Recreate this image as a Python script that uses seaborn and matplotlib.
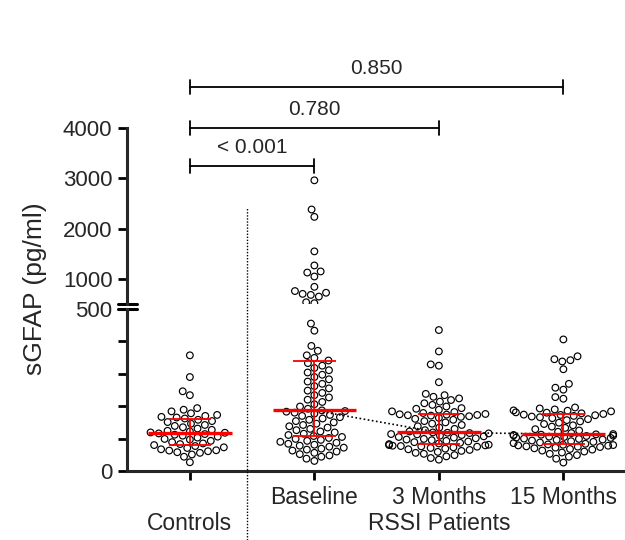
import numpy as np
import pandas as pd
import matplotlib
matplotlib.use("Agg")
import matplotlib.pyplot as plt
from matplotlib.lines import Line2D
import seaborn as sns

# sGFAP values (pg/ml)
groups = ["Controls", "Baseline", "3 Months", "15 Months"]
tick_labels = ["\nControls", "Baseline", "3 Months\nRSSI Patients", "15 Months"]

controls = [27, 44, 51, 56, 58, 61, 63, 64, 67, 71, 73, 77, 80, 83, 85, 89, 93,
            97, 99, 103, 106, 109, 112, 114, 116, 118, 119, 122, 124, 127, 131,
            135, 139, 142, 146, 151, 154, 158, 162, 165, 167, 170, 173, 178, 184,
            189, 194, 234, 246, 290, 357]

baseline = [31, 38, 44, 48, 52, 56, 60, 63, 66, 69, 72, 75, 78, 81, 84, 87, 90,
            93, 96, 99, 102, 105,
            108, 111, 115, 119, 122, 126, 130, 134, 138, 142, 146, 150, 154, 158,
            162, 166, 170, 173, 177, 180, 183, 185,
            187,
            192, 199, 206, 213, 220, 227, 234, 241, 248, 255, 262, 269, 276, 283,
            290, 297, 304, 311, 318, 325, 333, 341,
            349, 357, 371, 386, 433, 455, 517, 535, 648, 681, 702, 724, 758, 842,
            1047, 1126, 1148, 1267, 1547, 2233, 2380, 2960]

months3 = [35, 40, 45, 49, 53, 56, 59, 62, 65, 67, 69, 71, 73, 75, 76, 77, 78,
           79, 80, 81,
           83, 85, 87, 89, 91, 93, 95, 97, 99, 101, 103, 105, 107, 109, 111, 113,
           114, 116, 117, 118,
           119,
           122, 126, 130, 134, 138, 142, 146, 150, 154, 158, 161, 164, 167, 169,
           171, 172, 173, 174, 175, 176,
           179, 182, 184, 189, 192, 194, 199, 204, 209, 214, 219, 224, 229, 234,
           238, 274, 325, 329, 369, 435]

months15 = [26, 38, 44, 49, 53, 57, 60, 63, 66, 68, 70, 72, 74, 75, 76, 78, 79,
            80, 81, 82,
            84, 86, 88, 90, 92, 94, 96, 97, 99, 100, 102, 103, 105, 106, 108, 109,
            110, 111, 112, 113,
            114,
            117, 121, 125, 129, 133, 137, 141, 145, 149, 153, 157, 160, 163, 166,
            168, 170, 172, 173, 174, 176,
            178, 180, 181, 184, 186, 187, 190, 193, 196, 223, 228, 251, 257, 269,
            314, 338, 342, 345, 354, 406]

# significance brackets: end group, height in pg/ml, label (all start at Controls)
bracket_ends = [1, 2, 3]
bracket_heights = [3245, 4006, 4821]
bracket_labels = ["< 0.001", "0.780", "0.850"]

df = pd.DataFrame({
    "group": ["Controls"] * len(controls) + ["Baseline"] * len(baseline)
             + ["3 Months"] * len(months3) + ["15 Months"] * len(months15),
    "value": controls + baseline + months3 + months15,
})

sns.set_style("ticks")
plt.rcParams["font.family"] = ["Liberation Sans", "DejaVu Sans"]

fig = plt.figure(figsize=(6.25, 5.4), dpi=100)
ax_top = fig.add_axes([0.2032, 0.437, 0.7968, 0.3259])
ax_bot = fig.add_axes([0.2032, 0.1278, 0.7968, 0.3])

swarm_kw = dict(x="group", y="value", order=groups, size=4.8,
                color="white", edgecolor="black", linewidth=0.85)
sns.swarmplot(data=df[df["value"] <= 500], ax=ax_bot, **swarm_kw)
sns.swarmplot(data=df[df["value"] > 500], ax=ax_top, **swarm_kw)
for ax in (ax_top, ax_bot):
    for coll in ax.collections:
        coll.set_facecolor("none")

# median + IQR
meds = []
for i, g in enumerate(groups):
    vals = df.loc[df["group"] == g, "value"]
    q1, med, q3 = np.percentile(vals, [25, 50, 75])
    meds.append(med)
    ax_bot.vlines(i, q1, q3, color="red", lw=1.3, zorder=5)
    ax_bot.hlines([q1, q3], i - 0.17, i + 0.17, color="red", lw=1.3, zorder=5)
    ax_bot.hlines(med, i - 0.335, i + 0.335, color="red", lw=2.4, zorder=6)
ax_bot.plot([1, 2, 3], meds[1:], ls=(0, (1, 1.5)), color="black", lw=1.2, zorder=4)

# axes styling
for ax in (ax_top, ax_bot):
    ax.set_xlim(-0.505, 3.495)
    ax.set_xlabel("")
    ax.set_ylabel("")
    ax.spines["top"].set_visible(False)
    ax.spines["right"].set_visible(False)
    ax.spines["left"].set_linewidth(2.2)
    ax.spines["bottom"].set_linewidth(2.2)
    ax.tick_params(length=6.5, width=2.0, labelsize=16, color="black", pad=4)

ax_top.spines["bottom"].set_visible(False)
ax_top.tick_params(axis="x", bottom=False, labelbottom=False)
ax_top.set_ylim(500, 4000)
ax_top.set_yticks([1000, 2000, 3000, 4000])

ax_bot.set_ylim(0, 500)
ax_bot.set_yticks([0, 100, 200, 300, 400, 500])
ax_bot.set_yticklabels(["0", "", "", "", "", "500"])
ax_bot.set_xticks(range(len(groups)))
ax_bot.set_xticklabels(tick_labels, fontsize=16.5)

# axis break marks
ax_top.plot([-0.018, 0.02], [0, 0], transform=ax_top.transAxes, color="black",
            lw=2.2, clip_on=False)
ax_bot.plot([-0.018, 0.02], [1, 1], transform=ax_bot.transAxes, color="black",
            lw=2.2, clip_on=False)

# brackets
for x2, h, lab in zip(bracket_ends, bracket_heights, bracket_labels):
    ax_top.plot([0, x2], [h, h], color="black", lw=1.3, clip_on=False)
    ax_top.plot([0, 0], [h - 140, h + 140], color="black", lw=1.3, clip_on=False)
    ax_top.plot([x2, x2], [h - 140, h + 140], color="black", lw=1.3, clip_on=False)
    ax_top.annotate(lab, xy=(x2 / 2, h), xytext=(0, 9.4), textcoords="offset points",
                    ha="center", va="baseline", fontsize=15, annotation_clip=False)

# separator between controls and patients
fig.add_artist(Line2D([247 / 625, 247 / 625], [0, 1 - 208 / 540],
                      transform=fig.transFigure, ls=(0, (1, 1.2)),
                      color="black", lw=1.0))

fig.text(0.056, 1 - 289 / 540, "sGFAP (pg/ml)", rotation=90, ha="center",
         va="center", fontsize=19)

fig.savefig("out.png", dpi=100)
